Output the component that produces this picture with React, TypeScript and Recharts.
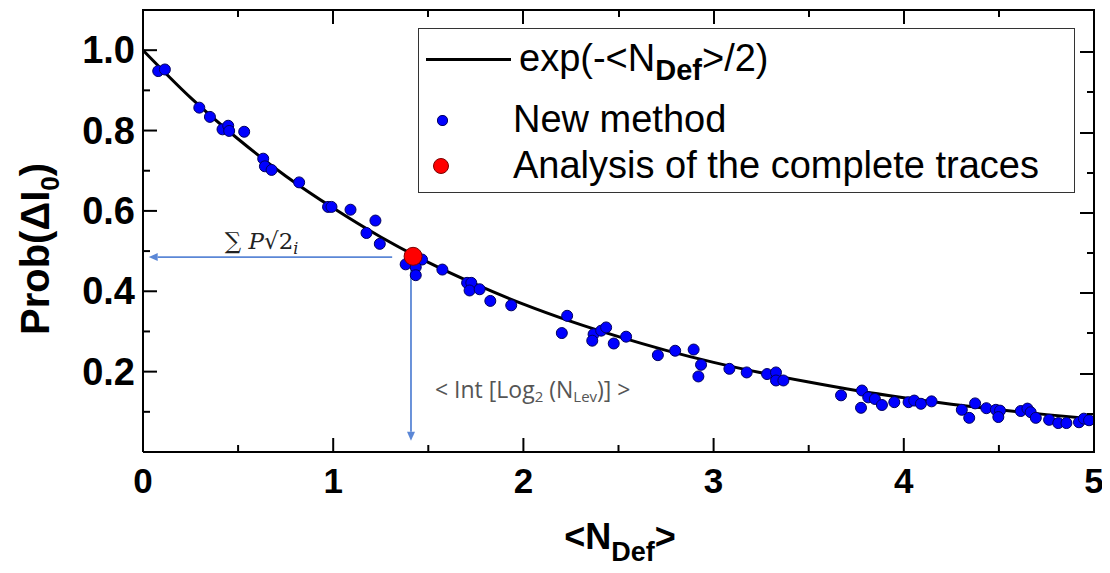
import React from 'react';
import { ComposedChart, Line, Scatter, XAxis, YAxis, ReferenceLine, ReferenceDot } from 'recharts';

// fitted curve exp(-<N_Def>/2)
const curveX = [0, 0.25, 0.5, 0.75, 1, 1.25, 1.5, 1.75, 2, 2.25, 2.5, 2.75, 3, 3.25, 3.5, 3.75, 4, 4.25, 4.5, 4.75, 5];
const curveY = [1.0, 0.882, 0.779, 0.687, 0.607, 0.535, 0.472, 0.417, 0.368, 0.325, 0.287, 0.253, 0.223, 0.197, 0.174, 0.153, 0.135, 0.119, 0.105, 0.093, 0.082];

const newMethod = [
  { x: 0.08, y: 0.948 }, { x: 0.115, y: 0.952 }, { x: 0.296, y: 0.857 }, { x: 0.352, y: 0.834 },
  { x: 0.418, y: 0.803 }, { x: 0.448, y: 0.812 }, { x: 0.453, y: 0.799 }, { x: 0.532, y: 0.797 },
  { x: 0.632, y: 0.73 }, { x: 0.641, y: 0.711 }, { x: 0.676, y: 0.702 }, { x: 0.821, y: 0.671 },
  { x: 0.973, y: 0.61 }, { x: 0.991, y: 0.61 }, { x: 1.091, y: 0.603 }, { x: 1.222, y: 0.576 },
  { x: 1.175, y: 0.545 }, { x: 1.245, y: 0.518 }, { x: 1.381, y: 0.467 }, { x: 1.467, y: 0.479 },
  { x: 1.434, y: 0.46 }, { x: 1.434, y: 0.44 }, { x: 1.574, y: 0.454 }, { x: 1.704, y: 0.421 },
  { x: 1.726, y: 0.421 }, { x: 1.717, y: 0.402 }, { x: 1.77, y: 0.405 }, { x: 1.826, y: 0.376 },
  { x: 1.936, y: 0.365 }, { x: 2.23, y: 0.339 }, { x: 2.202, y: 0.296 }, { x: 2.369, y: 0.293 },
  { x: 2.362, y: 0.277 }, { x: 2.409, y: 0.302 }, { x: 2.435, y: 0.31 }, { x: 2.475, y: 0.27 },
  { x: 2.54, y: 0.287 }, { x: 2.707, y: 0.241 }, { x: 2.798, y: 0.252 }, { x: 2.895, y: 0.255 },
  { x: 2.934, y: 0.217 }, { x: 2.92, y: 0.188 }, { x: 3.083, y: 0.207 }, { x: 3.174, y: 0.198 },
  { x: 3.281, y: 0.194 }, { x: 3.328, y: 0.198 }, { x: 3.328, y: 0.178 }, { x: 3.367, y: 0.178 },
  { x: 3.67, y: 0.141 }, { x: 3.78, y: 0.153 }, { x: 3.775, y: 0.11 }, { x: 3.813, y: 0.136 },
  { x: 3.848, y: 0.132 }, { x: 3.885, y: 0.117 }, { x: 3.95, y: 0.124 }, { x: 4.025, y: 0.124 },
  { x: 4.055, y: 0.128 }, { x: 4.09, y: 0.12 }, { x: 4.146, y: 0.126 }, { x: 4.305, y: 0.105 },
  { x: 4.344, y: 0.085 }, { x: 4.375, y: 0.121 }, { x: 4.434, y: 0.109 }, { x: 4.484, y: 0.105 },
  { x: 4.506, y: 0.103 }, { x: 4.497, y: 0.087 }, { x: 4.615, y: 0.102 }, { x: 4.65, y: 0.108 },
  { x: 4.667, y: 0.099 }, { x: 4.694, y: 0.085 }, { x: 4.764, y: 0.08 }, { x: 4.812, y: 0.072 },
  { x: 4.855, y: 0.072 }, { x: 4.921, y: 0.074 }, { x: 4.947, y: 0.083 }, { x: 4.974, y: 0.079 },
];

const completeTraces = [{ x: 1.42, y: 0.487 }];

const xTicks = [0, 0.5, 1, 1.5, 2, 2.5, 3, 3.5, 4, 4.5, 5];
const yTicks = [0.1, 0.2, 0.3, 0.4, 0.5, 0.6, 0.7, 0.8, 0.9, 1.0];
const X_MAX = 5;
const Y_MAX = 1.1;

const curveData = curveX.map((x, i) => ({ x, y: curveY[i] }));

// chart layout
const W = 1100;
const H = 560;
const MARGIN = { top: 2, right: 14, bottom: 56, left: 0 };
const Y_AXIS_W = 135;
const X_AXIS_H = 60;
const PLOT_L = MARGIN.left + Y_AXIS_W;
const PLOT_T = MARGIN.top;
const PLOT_W = W - MARGIN.left - MARGIN.right - Y_AXIS_W;
const PLOT_H = H - MARGIN.top - MARGIN.bottom - X_AXIS_H;

const ARROW = '#5b87d6';
const FONT = '"Liberation Sans", Arial, sans-serif';

const isMajorX = (v: number) => Number.isInteger(v);
const isMajorY = (v: number) => Math.round(v * 10) % 2 === 0;

const BottomTick = ({ x, y, payload }: any) => {
  const v = payload.value;
  return (
    <g>
      <line x1={x} x2={x} y1={y} y2={y - (isMajorX(v) ? 14 : 7)} stroke="#000" strokeWidth={2} />
      {isMajorX(v) && (
        <text x={x} y={y + 41} textAnchor="middle" fontSize={35} fontWeight="bold" fontFamily={FONT} fill="#000">
          {v}
        </text>
      )}
    </g>
  );
};

const LeftTick = ({ x, y, payload }: any) => {
  const v = payload.value;
  const major = isMajorY(v);
  return (
    <g>
      <line x1={x} x2={x + (major ? 14 : 7)} y1={y} y2={y} stroke="#000" strokeWidth={2} />
      {major && (
        <text x={x - 8} y={y + 13} textAnchor="end" fontSize={38} fontWeight="bold" fontFamily={FONT} fill="#000">
          {v.toFixed(1)}
        </text>
      )}
    </g>
  );
};

// top and right edges of the frame with their mirrored inward ticks, laid over the chart
const FrameOverlay = () => (
  <div
    style={{
      position: 'absolute', left: PLOT_L - 1, top: PLOT_T - 1, width: PLOT_W + 2, height: PLOT_H + 2,
      borderTop: '2px solid #000', borderRight: '2px solid #000', boxSizing: 'border-box',
      pointerEvents: 'none', zIndex: 5,
    }}
  >
    {xTicks.map((v) => (
      <div
        key={`t${v}`}
        style={{
          position: 'absolute', left: (v / X_MAX) * PLOT_W, top: 0, width: 2,
          height: isMajorX(v) ? 13 : 6, background: '#000',
        }}
      />
    ))}
    {yTicks.map((v) => (
      <div
        key={`r${v}`}
        style={{
          position: 'absolute', right: 0, top: (1 - v / Y_MAX) * PLOT_H, height: 2,
          width: isMajorY(v) ? 13 : 6, background: '#000',
        }}
      />
    ))}
  </div>
);

// line with an arrow head at its end point
const Arrow = ({ x1, y1, x2, y2 }: any) => {
  const a = Math.atan2(y2 - y1, x2 - x1);
  const len = 9;
  const w = 4;
  const bx = x2 - len * Math.cos(a);
  const by = y2 - len * Math.sin(a);
  const px = -Math.sin(a) * w;
  const py = Math.cos(a) * w;
  return (
    <g>
      <line x1={x1} y1={y1} x2={bx} y2={by} stroke={ARROW} strokeWidth={1.8} />
      <polygon points={`${x2},${y2} ${bx + px},${by + py} ${bx - px},${by - py}`} fill={ARROW} />
    </g>
  );
};

const BlueDot = (p: any) => <circle cx={p.cx} cy={p.cy} r={5.5} fill="#0000ff" stroke="#000060" strokeWidth={1} />;
const RedDot = (p: any) => <circle cx={p.cx} cy={p.cy} r={9} fill="#ff0000" stroke="#7a0000" strokeWidth={1} />;

const SumLabel = (p: any) => (
  <text x={p.cx} y={p.cy} fontSize={23} fontFamily='"DejaVu Serif", serif' fill="#222">
    <tspan>∑ </tspan>
    <tspan fontStyle="italic">P</tspan>
    <tspan>√2</tspan>
    <tspan fontStyle="italic" fontSize={16} dy={5}>i</tspan>
  </text>
);

const IntLabel = (p: any) => (
  <text x={p.cx} y={p.cy} fontSize={23} fontFamily='"Open Sans", sans-serif' fill="#555">
    <tspan>{'< Int [Log'}</tspan>
    <tspan fontSize={15} dy={4}>2</tspan>
    <tspan dy={-4}>{' (N'}</tspan>
    <tspan fontSize={15} dy={4}>Lev</tspan>
    <tspan dy={-4}>{')] >'}</tspan>
  </text>
);

const LegendBox = () => (
  <div
    style={{
      position: 'absolute', left: 410, top: 20, width: 655, height: 163, zIndex: 6,
      border: '1.5px solid #333', background: '#fff', fontFamily: FONT, fontSize: 38, color: '#000',
    }}
  >
    <div style={{ position: 'absolute', left: 7, top: 29, width: 85, height: 2.5, background: '#000' }} />
    <div style={{ position: 'absolute', left: 100, top: 6, lineHeight: '46px', whiteSpace: 'nowrap' }}>
      exp(-&lt;N<span style={{ fontWeight: 'bold', fontSize: 29, position: 'relative', top: 9 }}>Def</span>&gt;/2)
    </div>
    <div style={{ position: 'absolute', left: 18, top: 86, width: 9, height: 9, borderRadius: 5, background: '#0000ff', border: '1px solid #000060' }} />
    <div style={{ position: 'absolute', left: 94, top: 67, lineHeight: '46px', whiteSpace: 'nowrap' }}>New method</div>
    <div style={{ position: 'absolute', left: 14, top: 129, width: 14, height: 14, borderRadius: 8, background: '#ff0000', border: '1px solid #7a0000' }} />
    <div style={{ position: 'absolute', left: 94, top: 113, lineHeight: '46px', whiteSpace: 'nowrap' }}>Analysis of the complete traces</div>
  </div>
);

const App: React.FC = () => {
  return (
    <div style={{ position: 'relative', width: W, height: H, background: '#fff' }}>
      <ComposedChart width={W} height={H} margin={MARGIN}>
        <XAxis
          type="number" dataKey="x" domain={[0, X_MAX]} ticks={xTicks} interval={0}
          tickSize={0} tickMargin={0} height={X_AXIS_H} tick={<BottomTick />}
          axisLine={{ stroke: '#000', strokeWidth: 2 }} tickLine={false}
        />
        <YAxis
          type="number" dataKey="y" domain={[0, Y_MAX]} ticks={yTicks} interval={0}
          tickSize={0} tickMargin={0} width={Y_AXIS_W} tick={<LeftTick />}
          axisLine={{ stroke: '#000', strokeWidth: 2 }} tickLine={false}
        />

        <ReferenceLine segment={[{ x: 1.31, y: 0.485 }, { x: 0.03, y: 0.485 }]} shape={<Arrow />} />
        <ReferenceLine segment={[{ x: 1.409, y: 0.473 }, { x: 1.409, y: 0.028 }]} shape={<Arrow />} />
        <ReferenceDot x={0.43} y={0.505} r={0} shape={SumLabel} />
        <ReferenceDot x={1.535} y={0.135} r={0} shape={IntLabel} />

        <Line data={curveData} dataKey="y" type="monotone" stroke="#000" strokeWidth={3} dot={false} isAnimationActive={false} />
        <Scatter data={newMethod} shape={BlueDot} isAnimationActive={false} />
        <Scatter data={completeTraces} shape={RedDot} isAnimationActive={false} />
      </ComposedChart>

      <FrameOverlay />
      <LegendBox />

      <div
        style={{
          position: 'absolute', left: -123, top: 216, width: 300, height: 50, lineHeight: '50px',
          textAlign: 'center', transform: 'rotate(-90deg)', fontFamily: FONT, fontWeight: 'bold', fontSize: 40,
        }}
      >
        Prob(ΔI<span style={{ fontSize: 26, position: 'relative', top: 10 }}>0</span>)
      </div>
      <div
        style={{
          position: 'absolute', left: 512, top: 508, width: 200, textAlign: 'center',
          fontFamily: FONT, fontWeight: 'bold', fontSize: 36, whiteSpace: 'nowrap',
        }}
      >
        &lt;N<span style={{ fontSize: 27, position: 'relative', top: 12 }}>Def</span>&gt;
      </div>
    </div>
  );
};

export default App;
